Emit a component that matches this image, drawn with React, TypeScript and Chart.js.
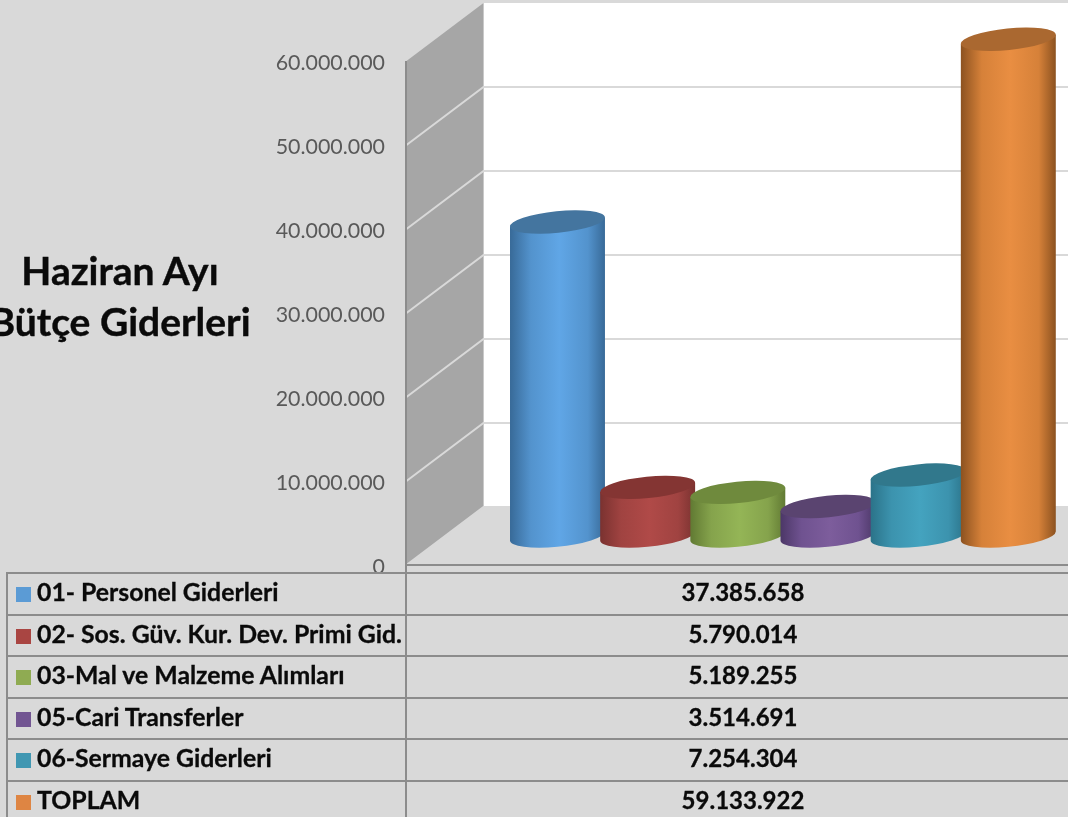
import React, { useEffect, useRef } from "react";
import { Chart, registerables } from "chart.js";

Chart.register(...registerables);

const categories = [
  "01- Personel Giderleri",
  "02- Sos. Güv. Kur. Dev. Primi Gid.",
  "03-Mal ve Malzeme Alımları",
  "05-Cari Transferler",
  "06-Sermaye Giderleri",
  "TOPLAM",
];
const values = [37385658, 5790014, 5189255, 3514691, 7254304, 59133922];
const swatchColors = ["#5b9bd5", "#a94542", "#8fab52", "#725592", "#4097b2", "#de8543"];
const edgeColors = ["#386a98", "#7a3230", "#617a33", "#4c3767", "#2b7389", "#8c5220"];
const shoulderColors = ["#5393cd", "#a04341", "#85a34c", "#6f5290", "#3c93ae", "#d68139"];
const midColors = ["#60a6e6", "#b04a48", "#94b556", "#7d5d9c", "#44a3bf", "#e98e42"];
const topColors = ["#44759f", "#843533", "#6f8a3d", "#5a4470", "#31788c", "#aa6830"];
const titleLines = ["Haziran Ayı", "Bütçe Giderleri"];

const FONT = "Lato, Carlito, Calibri, sans-serif";
const WALL_DX = 77;
const WALL_DY = 58;
const BAR_DX = 106.4;
const BAR_DY = 29;
const ELLIPSE_TILT = (-5.75 * Math.PI) / 180;
const ELLIPSE_RATIO = 0.225;

const fmt = (v: number) => String(v).replace(/\B(?=(\d{3})+(?!\d))/g, ".");

const scenePlugin = {
  id: "scene3d",
  beforeDraw(chart: any) {
    const { ctx, width, height } = chart;
    ctx.save();
    ctx.fillStyle = "#d9d9d9";
    ctx.fillRect(0, 0, width, height);
    ctx.restore();
  },
  beforeDatasetsDraw(chart: any) {
    const { ctx, width } = chart;
    const y = chart.scales.y;
    const x0 = chart.chartArea.left + 0.5;
    const yTop = y.getPixelForValue(60000000);
    const yBase = y.getPixelForValue(0);
    ctx.save();
    ctx.fillStyle = "#ffffff";
    ctx.fillRect(x0 + WALL_DX, yTop - WALL_DY, width - x0 - WALL_DX, yBase - yTop);
    ctx.fillStyle = "#a6a6a6";
    ctx.beginPath();
    ctx.moveTo(x0, yTop);
    ctx.lineTo(x0 + WALL_DX, yTop - WALL_DY);
    ctx.lineTo(x0 + WALL_DX, yBase - WALL_DY);
    ctx.lineTo(x0, yBase);
    ctx.closePath();
    ctx.fill();
    ctx.strokeStyle = "#d9d9d9";
    ctx.lineWidth = 2;
    for (const t of y.ticks) {
      const py = y.getPixelForValue(t.value);
      if (t.value >= 60000000) continue;
      ctx.beginPath();
      ctx.moveTo(x0, py);
      ctx.lineTo(x0 + WALL_DX, py - WALL_DY);
      ctx.lineTo(width, py - WALL_DY);
      ctx.stroke();
    }
    ctx.strokeStyle = "#8c8c8c";
    ctx.beginPath();
    ctx.moveTo(x0 - 0.5, yTop);
    ctx.lineTo(x0 - 0.5, yBase);
    ctx.lineTo(width, yBase);
    ctx.stroke();
    ctx.restore();
  },
  beforeDatasetDraw() {
    return false;
  },
  afterDatasetsDraw(chart: any) {
    const { ctx } = chart;
    const meta = chart.getDatasetMeta(0);
    meta.data.forEach((el: any, i: number) => {
      const cx = el.x + BAR_DX;
      const half = el.width / 2;
      const topY = el.y - BAR_DY;
      const baseY = el.base - BAR_DY;
      const a = half * 1.005;
      const b = a * ELLIPSE_RATIO;
      const t0 = Math.atan(-(b / a) * Math.tan(ELLIPSE_TILT));
      const edgeY = a * Math.cos(t0) * Math.sin(ELLIPSE_TILT) + b * Math.sin(t0) * Math.cos(ELLIPSE_TILT);
      const grad = ctx.createLinearGradient(cx - half, 0, cx + half, 0);
      grad.addColorStop(0, edgeColors[i]);
      grad.addColorStop(0.22, shoulderColors[i]);
      grad.addColorStop(0.52, midColors[i]);
      grad.addColorStop(0.82, shoulderColors[i]);
      grad.addColorStop(1, edgeColors[i]);
      ctx.save();
      ctx.beginPath();
      ctx.moveTo(cx - half, topY - edgeY);
      ctx.lineTo(cx - half, baseY - edgeY);
      ctx.ellipse(cx, baseY, a, b, ELLIPSE_TILT, t0 + Math.PI, t0, true);
      ctx.lineTo(cx + half, topY + edgeY);
      ctx.closePath();
      ctx.fillStyle = grad;
      ctx.fill();
      ctx.beginPath();
      ctx.ellipse(cx, topY, a, b, ELLIPSE_TILT, 0, Math.PI * 2);
      ctx.fillStyle = topColors[i];
      ctx.fill();
      ctx.restore();
    });
  },
};

const LINE = "#8c8c8c";
const ROW_TOP = 572;
const ROW_H = 41.6;

export default function App() {
  const ref = useRef<HTMLCanvasElement>(null);
  useEffect(() => {
    const chart = new Chart(ref.current as HTMLCanvasElement, {
      type: "bar",
      data: {
        labels: categories,
        datasets: [
          {
            data: values,
            backgroundColor: swatchColors,
            barPercentage: 1.053,
            categoryPercentage: 1,
          },
        ],
      },
      options: {
        responsive: false,
        animation: false,
        layout: { padding: { top: 61, bottom: 252, left: 0, right: 121 } },
        plugins: { legend: { display: false }, tooltip: { enabled: false }, title: { display: false } },
        scales: {
          x: { display: false },
          y: {
            min: 0,
            max: 60000000,
            afterFit: (s: any) => {
              s.width = 406;
            },
            border: { display: false },
            grid: { display: false },
            ticks: {
              stepSize: 10000000,
              padding: 13,
              labelOffset: 2,
              color: "#595959",
              font: { family: FONT, size: 21.4 },
              callback: (v: any) => fmt(Number(v)),
            },
          },
        },
      },
      plugins: [scenePlugin],
    } as any);
    return () => chart.destroy();
  }, []);

  return (
    <div style={{ position: "absolute", left: 0, top: 0, width: 1068, height: 817, overflow: "hidden", background: "#d9d9d9", fontFamily: FONT, color: "#0a0a0a" }}>
      <canvas ref={ref} width={1068} height={817} style={{ position: "absolute", left: 0, top: 0, display: "block" }} />
      {titleLines.map((t, i) => (
        <div key={t} style={{ position: "absolute", left: -60, width: 360, top: 245 + i * 51, height: 51, lineHeight: "51px", textAlign: "center", fontWeight: 700, fontSize: 39, whiteSpace: "nowrap", WebkitTextStroke: "0.4px #0a0a0a" }}>
          {t}
        </div>
      ))}
      {categories.map((c, i) => {
        const top = ROW_TOP + i * ROW_H;
        return (
          <div key={c} style={{ position: "absolute", left: 6, top, width: 1062, height: ROW_H, boxSizing: "border-box", borderTop: `2px solid ${LINE}`, lineHeight: `${ROW_H - 5}px`, fontWeight: 700, fontSize: 24.8, WebkitTextStroke: "0.3px #0a0a0a" }}>
            <span style={{ position: "absolute", left: 10, top: 13, width: 15, height: 15, background: swatchColors[i] }} />
            <span style={{ position: "absolute", left: 31, top: 0, whiteSpace: "nowrap" }}>{c}</span>
            <span style={{ position: "absolute", left: 400, width: 674, top: 0, textAlign: "center", fontSize: 24 }}>{fmt(values[i])}</span>
          </div>
        );
      })}
      <div style={{ position: "absolute", left: 6, top: ROW_TOP, width: 2, height: 245, background: LINE }} />
      <div style={{ position: "absolute", left: 405, top: ROW_TOP - 8, width: 2, height: 253, background: LINE }} />
    </div>
  );
}
